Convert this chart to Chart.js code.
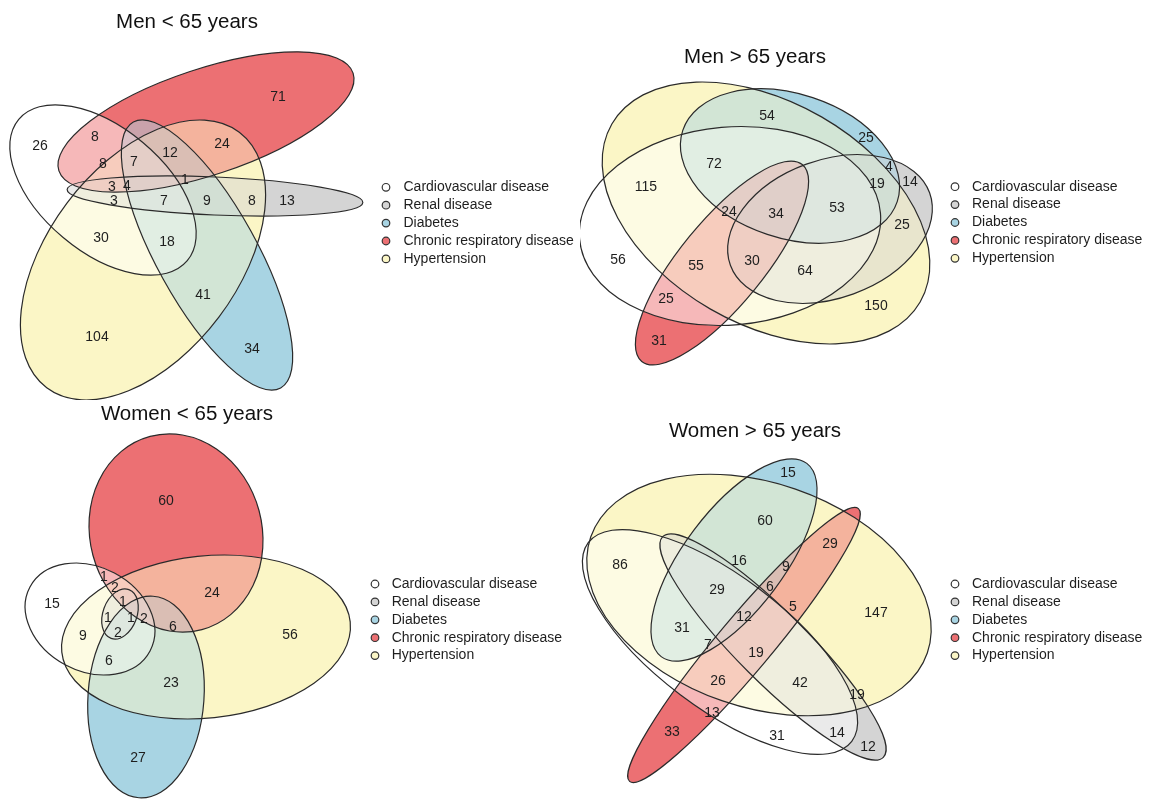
<!DOCTYPE html>
<html>
<head>
<meta charset="utf-8">
<title>Comorbidity Venn diagrams</title>
<script src="https://cdn.jsdelivr.net/npm/chart.js@4.4.1/dist/chart.umd.min.js"></script>
<style>
    html, body { margin: 0; padding: 0; background: #fff; }
    body { width: 1159px; height: 811px; position: relative; overflow: hidden; }
    .panel { position: absolute; }
</style>
</head>
<body>
<div class="panel" style="left:0;top:0"><canvas id="men-under" width="580" height="400"></canvas></div>
<div class="panel" style="left:580px;top:0"><canvas id="men-over" width="579" height="400"></canvas></div>
<div class="panel" style="left:0;top:400px"><canvas id="women-under" width="580" height="411"></canvas></div>
<div class="panel" style="left:580px;top:400px"><canvas id="women-over" width="579" height="411"></canvas></div>
<script>
// Sets, in legend order
const setNames = ['Cardiovascular disease', 'Renal disease', 'Diabetes', 'Chronic respiratory disease', 'Hypertension'];
// colour of each set on its own; overlaps get the mean of their sets
const setColors = [[255, 255, 255], [212, 212, 212], [168, 212, 227], [236, 112, 115], [251, 246, 198]];

// Men < 65 years
const menUnderCounts = [71, 26, 8, 24, 12, 8, 7, 1, 3, 4, 3, 7, 9, 8, 13, 30, 18, 41, 104, 34];
const menUnderX = [278, 40, 95, 222, 170, 103, 134, 185, 112, 127, 114, 164, 207, 252, 287, 101, 167, 203, 97, 252];
const menUnderY = [97, 146, 137, 144, 153, 164, 162, 180, 187, 186, 201, 201, 201, 201, 201, 238, 242, 295, 337, 349];
// one ellipse per set: centre x, centre y, radius x, radius y, rotation (deg)
const menUnderShapes = [
    [103, 190, 110, 62, 40],
    [215, 196, 148, 19, 2.5],
    [207, 255, 152, 50, 61],
    [206, 122, 155, 53, -18.4],
    [143, 260, 160, 95, 127]
];

// Men > 65 years
const menOverCounts = [54, 25, 72, 4, 115, 19, 14, 24, 34, 53, 25, 56, 55, 30, 64, 25, 150, 31];
const menOverX = [767, 866, 714, 889, 646, 877, 910, 729, 776, 837, 902, 618, 696, 752, 805, 666, 876, 659];
const menOverY = [116, 138, 164, 167, 187, 184, 182, 212, 214, 208, 225, 260, 266, 261, 271, 299, 306, 341];
const menOverShapes = [
    [730, 226, 151, 99, -5],
    [830, 229, 106, 69, -20],
    [790, 166, 113, 72, 18.4],
    [722, 263, 127, 42, -50.8],
    [766, 213, 178, 111, 30]
];

// Women < 65 years
const womenUnderCounts = [60, 1, 2, 24, 15, 1, 1, 1, 2, 6, 9, 2, 56, 6, 23, 27];
const womenUnderX = [166, 104, 115, 212, 52, 123, 108, 131, 144, 173, 83, 118, 290, 109, 171, 138];
const womenUnderY = [501, 577, 588, 593, 604, 602, 618, 618, 619, 627, 636, 633, 635, 661, 683, 758];
const womenUnderShapes = [
    [90, 619, 68, 52, 28],
    [120, 614, 26, 17, 110],
    [146, 697, 101, 58, 94],
    [176, 533, 100, 86, 75],
    [206, 637, 145, 81, -6]
];

// Women > 65 years
const womenOverCounts = [15, 60, 29, 86, 16, 9, 6, 29, 5, 147, 12, 31, 7, 19, 26, 42, 19, 13, 33, 31, 14, 12];
const womenOverX = [788, 765, 830, 620, 739, 786, 770, 717, 793, 876, 744, 682, 708, 756, 718, 800, 857, 712, 672, 777, 837, 868];
const womenOverY = [473, 521, 544, 565, 561, 567, 587, 590, 607, 613, 617, 628, 645, 653, 681, 683, 695, 713, 732, 736, 733, 747];
const womenOverShapes = [
    [720, 642, 165, 66, 37],
    [773, 647, 156, 35, 45],
    [734, 560, 121, 50, -53],
    [744, 645, 178, 27, -50],
    [759, 595, 178, 112, 19]
];

const FONT = '"Liberation Sans", Arial, sans-serif';

const vennPlugin = {
    id: 'venn',
    beforeDatasetsDraw(chart, args, opts) {
        const { ctx, width, height, scales: { x, y } } = chart;
        const paths = opts.shapes.map(s => {
            const cx = x.getPixelForValue(s[0]);
            const cy = y.getPixelForValue(s[1]);
            const rx = Math.abs(x.getPixelForValue(s[0] + s[2]) - cx);
            const ry = Math.abs(y.getPixelForValue(s[1] + s[3]) - cy);
            const p = new Path2D();
            p.ellipse(cx, cy, rx, ry, s[4] * Math.PI / 180, 0, Math.PI * 2);
            return p;
        });
        const outside = paths.map(p => {
            const o = new Path2D();
            o.rect(0, 0, width, height);
            o.addPath(p);
            return o;
        });

        // fill every region (each combination of sets) with the mean colour of its sets
        for (let mask = 1; mask < 32; mask++) {
            const members = setColors.map((c, i) => i).filter(i => mask & (1 << i));
            const rgb = [0, 1, 2].map(k =>
                Math.round(members.reduce((sum, i) => sum + setColors[i][k], 0) / members.length));
            ctx.save();
            for (let i = 0; i < paths.length; i++) {
                if (mask & (1 << i)) ctx.clip(paths[i]);
                else ctx.clip(outside[i], 'evenodd');
            }
            ctx.fillStyle = 'rgb(' + rgb.join(',') + ')';
            ctx.fillRect(0, 0, width, height);
            ctx.restore();
        }

        ctx.save();
        ctx.strokeStyle = '#2a2a2a';
        ctx.lineWidth = 1.2;
        paths.forEach(p => ctx.stroke(p));
        ctx.restore();
    },
    afterDatasetsDraw(chart, args, opts) {
        const { ctx, scales: { x, y } } = chart;
        ctx.save();
        ctx.textAlign = 'center';
        ctx.textBaseline = 'middle';

        // region counts, placed at the scatter points
        const meta = chart.getDatasetMeta(0);
        const points = chart.data.datasets[0].data;
        ctx.fillStyle = '#1e1e1e';
        ctx.font = '14px ' + FONT;
        meta.data.forEach((el, i) => ctx.fillText(String(points[i].count), el.x, el.y));

        // title
        ctx.fillStyle = '#111';
        ctx.font = '20.5px ' + FONT;
        ctx.fillText(opts.title, x.getPixelForValue(opts.titleAt[0]), y.getPixelForValue(opts.titleAt[1]));

        // legend
        ctx.textAlign = 'left';
        ctx.font = '14px ' + FONT;
        const lx = x.getPixelForValue(opts.legendAt[0]);
        setNames.forEach((name, i) => {
            const ly = y.getPixelForValue(opts.legendAt[1] + i * 17.9);
            ctx.beginPath();
            ctx.arc(lx, ly, 3.8, 0, Math.PI * 2);
            ctx.fillStyle = 'rgb(' + setColors[i].join(',') + ')';
            ctx.fill();
            ctx.strokeStyle = '#333';
            ctx.lineWidth = 1.2;
            ctx.stroke();
            ctx.fillStyle = '#1e1e1e';
            ctx.fillText(name, lx + opts.legendGap, ly);
        });
        ctx.restore();
    }
};

function makeVenn(canvasId, box, counts, xs, ys, shapes, title, titleAt, legendAt, legendGap) {
    const ctx = document.getElementById(canvasId).getContext('2d');
    return new Chart(ctx, {
        type: 'scatter',
        data: {
            datasets: [{
                label: title,
                data: counts.map((c, i) => ({ x: xs[i], y: ys[i], count: c })),
                pointRadius: 0,
                pointHoverRadius: 0
            }]
        },
        options: {
            responsive: false,
            animation: false,
            events: [],
            layout: { padding: 0 },
            scales: {
                x: { type: 'linear', display: false, min: box[0], max: box[0] + box[2] },
                y: { type: 'linear', display: false, reverse: true, min: box[1], max: box[1] + box[3] }
            },
            plugins: {
                legend: { display: false },
                tooltip: { enabled: false },
                venn: { shapes, title, titleAt, legendAt, legendGap }
            }
        },
        plugins: [vennPlugin]
    });
}

makeVenn('men-under', [0, 0, 580, 400], menUnderCounts, menUnderX, menUnderY, menUnderShapes,
    'Men < 65 years', [187, 22.5], [386, 187.3], 17.5);
makeVenn('men-over', [580, 0, 579, 400], menOverCounts, menOverX, menOverY, menOverShapes,
    'Men > 65 years', [755, 57], [955, 186.7], 17);
makeVenn('women-under', [0, 400, 580, 411], womenUnderCounts, womenUnderX, womenUnderY, womenUnderShapes,
    'Women < 65 years', [187, 414], [375, 584], 16.7);
makeVenn('women-over', [580, 400, 579, 411], womenOverCounts, womenOverX, womenOverY, womenOverShapes,
    'Women > 65 years', [755, 431], [955, 584], 17);
</script>
</body>
</html>
